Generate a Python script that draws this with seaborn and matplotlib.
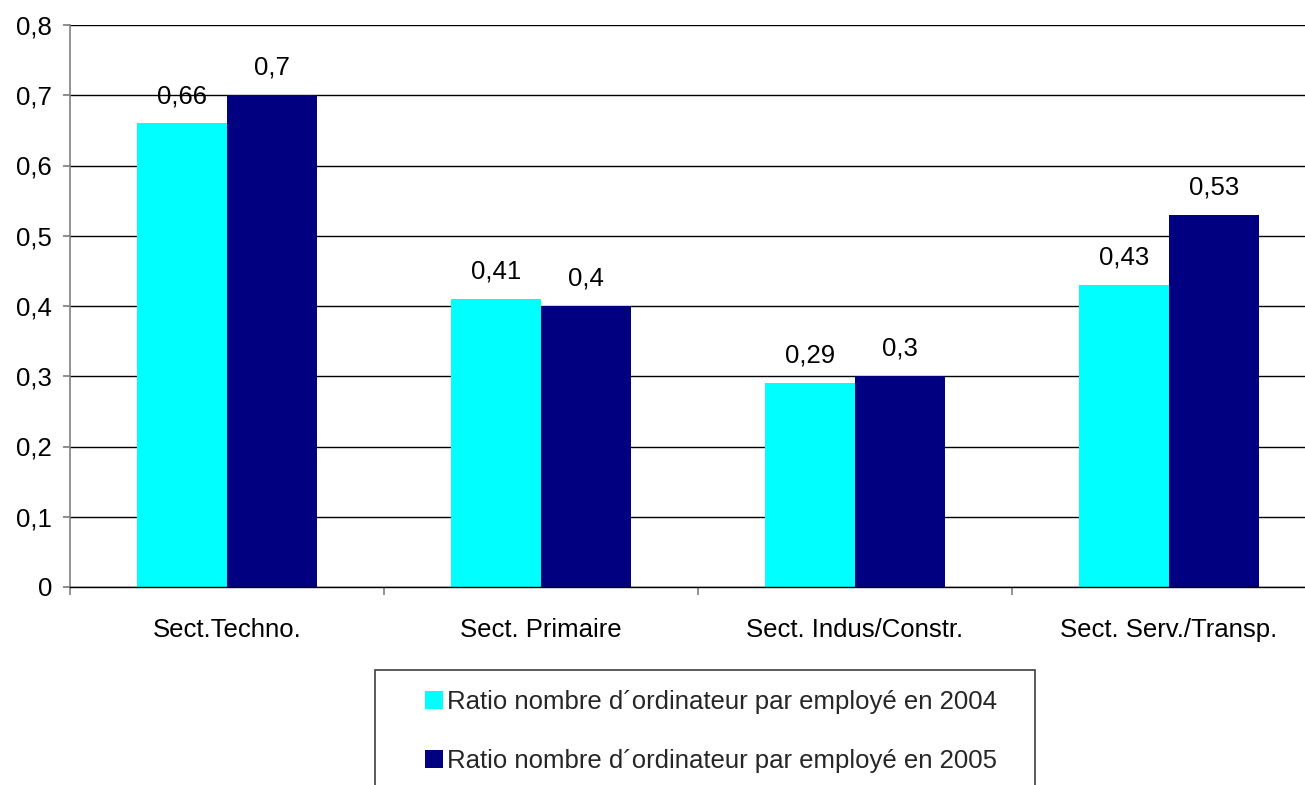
import matplotlib
matplotlib.use("Agg")
import matplotlib.pyplot as plt
import seaborn as sns
import pandas as pd
from matplotlib.ticker import FuncFormatter, FixedLocator
from matplotlib.patches import Rectangle, Patch

categories = ["Sect.Techno.", "Sect. Primaire", "Sect. Indus/Constr.", "Sect. Serv./Transp."]
series_names = ["Ratio nombre d\u00b4ordinateur par employ\u00e9 en 2004",
                "Ratio nombre d\u00b4ordinateur par employ\u00e9 en 2005"]
values_2004 = [0.66, 0.41, 0.29, 0.43]
values_2005 = [0.70, 0.40, 0.30, 0.53]
colors = ["#00FFFF", "#000080"]

df = pd.DataFrame({
    "Secteur": categories * 2,
    "Valeur": values_2004 + values_2005,
    "Série": [series_names[0]] * 4 + [series_names[1]] * 4,
})

sns.set_theme(style="white")
plt.rcParams["font.family"] = ["Liberation Sans", "DejaVu Sans"]

FS = 18.5
fig = plt.figure(figsize=(13.05, 7.85), dpi=100)
W, H = 1305, 785
ax = fig.add_axes([70 / W, 1 - 587 / H, 1256 / W, (587 - 25) / H])

sns.barplot(data=df, x="Secteur", y="Valeur", hue="Série", palette=colors,
            width=0.573, gap=0, saturation=1, ax=ax, legend=False, linewidth=0)

ax.set_xlim(-0.5, 3.5)
ax.set_ylim(0, 0.8)
ax.set_yticks([i / 10 for i in range(9)])
ax.yaxis.set_major_formatter(FuncFormatter(lambda v, p: f"{v:g}".replace(".", ",")))
ax.yaxis.grid(True, color="black", linewidth=1)
ax.set_axisbelow(True)
ax.set_xlabel("")
ax.set_ylabel("")

for s in ["top", "right"]:
    ax.spines[s].set_visible(False)
ax.spines["left"].set_color("#808080")
ax.spines["left"].set_linewidth(1.2)
ax.spines["bottom"].set_color("black")
ax.spines["bottom"].set_linewidth(1)

ax.tick_params(axis="y", which="major", left=True, length=5, color="#808080",
               labelsize=FS, pad=8, labelcolor="black")
ax.tick_params(axis="x", which="major", bottom=False, length=0, labelsize=FS, pad=22,
               labelcolor="black")
ax.xaxis.set_minor_locator(FixedLocator([-0.5, 0.5, 1.5, 2.5, 3.5]))
ax.tick_params(axis="x", which="minor", bottom=True, length=6, color="#808080", width=1.2)

for cont in ax.containers:
    labels = [f"{b.get_height():g}".replace(".", ",") for b in cont]
    ax.bar_label(cont, labels=labels, padding=11, fontsize=FS, color="black")

# Legend box (cut at bottom edge)
fig.patches.append(Rectangle((375 / W, -0.05), 660 / W, (785 - 670) / H + 0.05,
                             transform=fig.transFigure, facecolor="white",
                             edgecolor="#404040", linewidth=1.2, zorder=1))
handles = [Patch(facecolor=c, edgecolor="none") for c in colors]
leg = fig.legend(handles, series_names, loc="upper left",
                 bbox_to_anchor=(425 / W, 1 - 690 / H), frameon=False,
                 fontsize=FS, handlelength=0.72, handleheight=0.72,
                 handletextpad=0.15, labelspacing=1.36, borderaxespad=0,
                 borderpad=0)
leg.set_zorder(2)

fig.savefig("out.png", dpi=100)
